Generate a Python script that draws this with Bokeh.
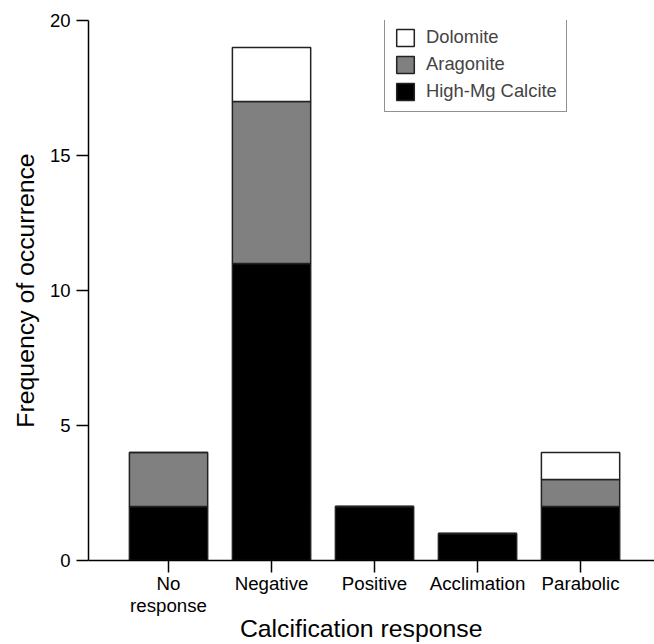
from bokeh.plotting import figure
from bokeh.models import Range1d, Legend, LegendItem, FixedTicker, ColumnDataSource
from bokeh.embed import file_html
from bokeh.resources import INLINE

categories = ["No\nresponse", "Negative", "Positive", "Acclimation", "Parabolic"]
high_mg_calcite = [2, 11, 2, 1, 2]
aragonite = [2, 6, 0, 0, 1]
dolomite = [0, 2, 0, 0, 1]
y_ticks = [0, 5, 10, 15, 20]

FONT = "Liberation Sans"
xs = list(range(len(categories)))

src = ColumnDataSource(dict(x=xs, hmc=high_mg_calcite, ara=aragonite, dol=dolomite))

p = figure(width=654, height=644, output_backend="svg", toolbar_location=None,
           x_range=Range1d(-0.777, 4.718), y_range=Range1d(0, 20),
           min_border_left=88, min_border_right=0, min_border_top=20, min_border_bottom=84)
p.outline_line_color = None
p.grid.visible = False
p.background_fill_color = "white"

rs = p.vbar_stack(["hmc", "ara", "dol"], x="x", width=0.76, source=src,
                  fill_color=["#000000", "#808080", "#ffffff"],
                  line_color="#222222", line_width=1.5)

legend = Legend(items=[LegendItem(label="Dolomite", renderers=[rs[2]]),
                       LegendItem(label="Aragonite", renderers=[rs[1]]),
                       LegendItem(label="High-Mg Calcite", renderers=[rs[0]])],
                location=(296, 448))
legend.border_line_color = "#222222"
legend.border_line_width = 1.2
legend.background_fill_alpha = 1
legend.label_text_font = FONT
legend.label_text_font_size = "18.4px"
legend.glyph_width = 22
legend.glyph_height = 21
legend.label_standoff = 10
legend.spacing = 5
legend.padding = 9
legend.margin = 0
p.add_layout(legend)

p.xaxis.ticker = FixedTicker(ticks=xs)
p.xaxis.major_label_overrides = {i: c for i, c in enumerate(categories)}
p.yaxis.ticker = FixedTicker(ticks=y_ticks)

for ax in (p.xaxis, p.yaxis):
    ax.axis_line_color = "black"
    ax.axis_line_width = 1.5
    ax.major_tick_line_color = "black"
    ax.major_tick_line_width = 1.5
    ax.major_tick_in = 0
    ax.major_tick_out = 12
    ax.minor_tick_line_color = None
    ax.major_label_text_font = FONT
    ax.major_label_text_font_size = "18.7px"
    ax.major_label_text_color = "black"
    ax.axis_label_text_font = FONT
    ax.axis_label_text_font_style = "normal"
    ax.axis_label_text_font_size = "24.8px"
    ax.axis_label_text_color = "black"

p.yaxis.major_label_text_font_size = "18.5px"
p.yaxis.axis_label = "Frequency of occurrence"
p.yaxis.major_label_standoff = 6
p.yaxis.axis_label_standoff = 8

p.xaxis.major_label_text_line_height = 1.05
p.xaxis.major_label_standoff = 0
# trailing no-break spaces shift the centred title slightly left, as in the reference
p.xaxis.axis_label = "Calcification response\u00a0\u00a0\u00a0"
p.xaxis.axis_label_standoff = -4

open("out.html", "w").write(file_html(p, INLINE))
